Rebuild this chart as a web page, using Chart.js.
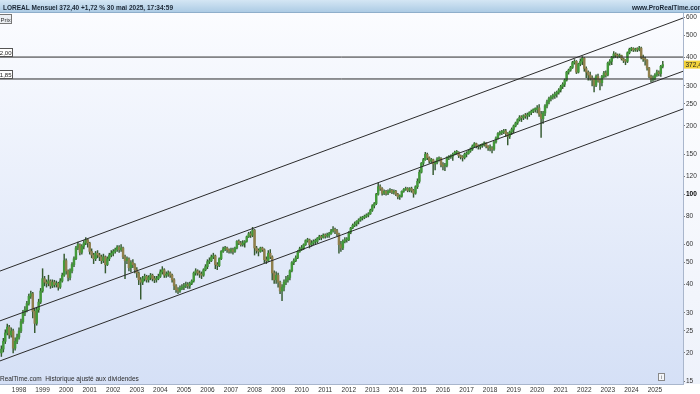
<!DOCTYPE html>
<html>
<head>
<meta charset="utf-8">
<script src="https://cdn.jsdelivr.net/npm/chart.js@4.4.1/dist/chart.umd.min.js"></script>
<style>
  html, body { margin: 0; padding: 0; background: #fff; }
  #c { display: block; }
</style>
</head>
<body>
<canvas id="c" width="700" height="394"></canvas>
<script>
// Monthly candles, months counted from Jan 1998 (first bar = Apr 1997)
const firstMonth = -9;
const firstOpen = 20.0;

const closes = [
  20.8, 22.5, 24.5, 26.0, 24.0, 25.0, 21.0, 22.5, 23.5,
  25.0, 27.5, 30.0, 31.0, 33.0, 35.5, 36.5, 30.5, 27.0, 31.0, 33.5, 37.5,
  42.5, 41.0, 40.5, 41.5, 39.5, 41.0, 40.0, 40.5, 39.0, 41.5, 44.0, 51.0,
  46.0, 43.0, 46.0, 49.0, 52.0, 58.0, 60.0, 55.5, 59.0, 61.0, 63.0, 61.0,
  56.0, 54.0, 52.0, 55.0, 54.0, 53.0, 51.0, 53.0, 49.0, 52.0, 54.0, 55.0,
  56.0, 57.0, 58.5, 57.0, 58.0, 53.0, 51.0, 52.0, 47.5, 50.0, 49.0, 46.5,
  45.0, 42.0, 41.0, 42.5, 43.5, 42.0, 43.0, 44.0, 42.5, 42.0, 42.5, 43.5,
  45.5, 46.5, 44.0, 44.5, 45.0, 44.0, 42.0, 39.5, 38.0, 37.5, 38.5, 39.0,
  39.5, 40.0, 39.5, 40.5, 41.5, 45.0, 46.0, 45.0, 44.5, 44.0, 46.5, 48.0,
  50.5, 51.0, 53.0, 53.5, 49.0, 48.5, 52.0, 56.0, 57.5, 58.0, 57.0, 56.0,
  57.0, 56.0, 58.0, 62.0, 61.0, 60.0, 61.0, 62.0, 65.0, 67.0, 66.0, 69.5,
  58.0, 56.5, 56.0, 58.0, 57.0, 51.5, 51.0, 55.0, 53.0, 45.0, 42.0, 44.0,
  41.0, 37.5, 39.0, 41.0, 42.0, 43.0, 46.0, 50.0, 51.0, 52.5, 56.0, 57.5,
  58.0, 60.0, 62.5, 63.0, 60.0, 61.0, 62.0, 62.0, 64.0, 65.0, 64.5, 66.0,
  65.5, 66.0, 67.0, 69.0, 70.0, 69.0, 67.0, 60.0, 58.0, 62.0, 63.0, 63.0,
  68.0, 71.0, 73.0, 74.0, 76.0, 77.0, 78.5, 79.0, 80.0, 81.0, 82.0, 85.0,
  89, 91, 100, 108, 106, 101, 103, 101, 103, 104, 102, 103,
  100, 97.5, 98, 103, 105, 106, 104, 106, 104, 101, 108, 114,
  125, 137, 142, 150, 145, 140, 142, 136, 138, 143, 144, 135,
  133, 134, 145, 146, 147, 150, 153, 153, 148, 146, 145, 150,
  151, 155, 158, 163, 167, 163, 162, 164, 165, 168, 163, 160,
  160, 158, 170, 177, 185, 187, 188, 190, 185, 180, 188, 193,
  200, 206, 213, 218, 217, 222, 221, 224, 229, 232, 236, 236,
  240, 225, 215, 228, 245, 255, 264, 268, 272, 276, 281, 288,
  298, 305, 318, 345, 352, 362, 380, 385, 345, 375, 385, 398,
  358, 345, 335, 325, 320, 302, 330, 318, 310, 330, 342, 335,
  378, 385, 402, 415, 410, 405, 408, 395, 388, 385, 420, 435,
  438, 432, 436, 434, 440, 400, 395, 390, 360, 330, 320, 325,
  335, 345, 340, 366, 372.4
];

const highs = [
  21.5, 23.2, 25.3, 26.8, 26.5, 25.8, 25.5, 23.3, 24.2,
  25.8, 28.2, 30.8, 32.0, 33.8, 36.3, 37.5, 37.0, 31.5, 31.8, 34.5, 38.5,
  47.0, 43.5, 42.0, 44.0, 42.0, 42.0, 41.8, 41.5, 41.0, 42.5, 45.0, 54.5,
  52.0, 46.5, 47.0, 50.0, 53.0, 59.0, 61.5, 60.5, 60.0, 62.5, 64.5, 63.5,
  61.5, 57.5, 55.0, 56.0, 56.5, 55.0, 54.0, 54.5, 53.5, 53.0, 55.0, 56.5,
  57.0, 58.0, 59.5, 59.5, 60.0, 58.5, 54.0, 53.0, 52.5, 51.0, 51.5, 49.5,
  47.5, 45.5, 43.0, 43.5, 44.5, 44.0, 43.8, 44.8, 44.5, 43.5, 43.5, 44.5,
  46.5, 48.0, 47.0, 45.5, 46.0, 45.5, 44.5, 42.5, 40.0, 38.8, 39.5, 40.0,
  40.5, 41.0, 40.8, 41.0, 42.0, 45.5, 47.0, 46.5, 46.0, 45.5, 47.0, 49.0,
  51.5, 52.5, 54.0, 55.0, 54.0, 50.0, 52.5, 56.5, 58.5, 59.0, 58.5, 57.5,
  58.0, 58.0, 58.5, 62.5, 63.0, 62.0, 62.5, 62.5, 65.5, 68.0, 68.5, 71.5,
  70.0, 59.0, 57.5, 58.5, 58.5, 57.5, 53.0, 56.5, 57.0, 53.5, 46.0, 45.5,
  45.0, 41.5, 40.0, 42.0, 43.5, 44.0, 46.5, 50.5, 52.0, 53.5, 56.5, 58.5,
  59.5, 60.5, 63.0, 64.0, 63.5, 62.5, 63.0, 63.5, 64.5, 66.0, 66.0, 67.0,
  67.0, 67.5, 68.0, 70.0, 72.0, 71.0, 70.0, 67.5, 62.0, 63.0, 64.5, 64.5,
  68.5, 71.5, 74.0, 75.5, 76.5, 78.0, 79.5, 80.0, 81.0, 82.0, 83.0, 86.0,
  90, 92, 101, 112, 110, 107, 104.5, 104, 104.5, 106, 105, 104.5,
  104, 101, 99.5, 103.5, 106, 107.5, 107, 107, 107.5, 105, 109, 117,
  128, 138, 144, 153, 152, 146, 144, 143, 140, 145, 146, 145,
  138, 137, 146, 148, 149, 152, 155, 156, 154, 149, 148, 152,
  154, 157, 160, 165, 169, 168, 165, 166, 167, 170, 169, 164,
  165, 162, 171, 179, 187, 190, 191, 193, 193, 187, 190, 196,
  202, 208, 215, 222, 222, 224, 227, 228, 231, 235, 238, 240,
  246, 248, 232, 232, 248, 260, 268, 272, 276, 282, 285, 292,
  302, 310, 322, 348, 356, 366, 385, 392, 388, 378, 395, 404,
  400, 364, 350, 345, 332, 325, 336, 338, 322, 334, 348, 350,
  382, 392, 405, 425, 420, 415, 415, 410, 398, 392, 424, 440,
  444, 442, 440, 442, 448, 445, 410, 402, 392, 362, 335, 332,
  340, 352, 350, 370, 385
];

const lows = [
  19.3, 20.2, 22.0, 24.0, 23.2, 23.5, 20.0, 20.6, 22.0,
  23.0, 24.6, 27.0, 29.2, 30.3, 32.5, 34.8, 28.5, 24.6, 26.5, 30.2, 33.0,
  37.0, 39.5, 39.0, 39.5, 38.5, 38.8, 39.0, 39.0, 37.8, 38.5, 41.0, 43.5,
  44.5, 41.5, 42.0, 45.0, 48.0, 51.5, 57.0, 54.0, 54.5, 57.5, 60.0, 58.5,
  54.5, 52.5, 49.5, 51.0, 52.5, 51.0, 49.5, 50.0, 45.0, 48.5, 51.0, 53.0,
  53.5, 55.0, 56.0, 55.5, 56.0, 52.0, 42.5, 49.5, 46.0, 45.5, 47.5, 45.0,
  43.0, 40.0, 34.5, 40.0, 41.5, 41.0, 41.0, 42.0, 41.5, 40.8, 41.0, 42.0,
  43.0, 44.5, 43.0, 43.0, 43.5, 43.0, 41.0, 38.0, 37.0, 36.5, 37.0, 38.0,
  38.0, 38.8, 38.5, 38.5, 40.0, 41.0, 44.0, 44.0, 43.0, 42.5, 43.5, 46.0,
  47.0, 49.5, 50.5, 52.0, 47.0, 46.5, 48.0, 51.5, 55.5, 56.5, 55.5, 55.0,
  55.0, 54.5, 55.5, 57.5, 60.0, 59.0, 59.0, 58.5, 61.5, 64.5, 64.5, 65.0,
  54.0, 55.0, 53.5, 55.5, 56.0, 50.0, 49.5, 50.5, 52.0, 42.0, 40.5, 40.5,
  39.0, 36.5, 34.0, 37.5, 40.0, 41.0, 42.0, 45.5, 49.0, 50.5, 52.0, 55.5,
  56.5, 57.0, 59.5, 61.5, 58.0, 59.0, 60.0, 60.5, 61.0, 63.0, 63.0, 64.0,
  64.0, 64.5, 64.5, 66.5, 68.0, 67.0, 65.5, 55.0, 56.0, 57.0, 61.0, 61.5,
  62.5, 67.0, 70.5, 72.0, 72.5, 74.0, 76.0, 77.0, 78.0, 79.0, 79.5, 81.5,
  84, 87, 90, 99, 104, 99, 99.5, 99, 99.5, 101.5, 100.5, 100,
  98.5, 95.5, 95, 97, 102, 104, 102.5, 102.5, 102, 97, 100, 106,
  112, 124, 134, 141, 142, 137, 137, 122, 128, 136, 140, 132,
  128, 127, 132, 142, 144, 141, 149, 150, 145, 143, 140, 143,
  146, 150, 153, 156, 161, 160, 158, 158, 161, 163, 160, 156,
  155, 152, 156, 168, 175, 182, 183, 185, 180, 165, 176, 183,
  186, 198, 203, 210, 209, 213, 216, 214, 220, 224, 229, 230,
  228, 220, 178, 205, 222, 240, 250, 258, 262, 264, 268, 276,
  282, 292, 298, 315, 338, 348, 358, 374, 340, 342, 368, 372,
  348, 326, 318, 318, 300, 282, 298, 312, 288, 300, 325, 328,
  332, 370, 372, 398, 400, 398, 400, 390, 380, 372, 380, 415,
  428, 425, 426, 425, 428, 395, 385, 370, 352, 326, 312, 314,
  318, 330, 332, 330, 360
];

const years = [1998, 1999, 2000, 2001, 2002, 2003, 2004, 2005, 2006, 2007, 2008, 2009, 2010, 2011,
  2012, 2013, 2014, 2015, 2016, 2017, 2018, 2019, 2020, 2021, 2022, 2023, 2024, 2025];
const yTicks = [15, 20, 25, 30, 40, 50, 60, 80, 100, 120, 150, 200, 250, 300, 400, 500, 600];

// trend channel drawn across the visible range (month index, price)
const channelX = [-9.7, 338.3];
const channelUpper = [45.9, 597];
const channelMiddle = [27.7, 348];
const channelLower = [18.45, 237.6];
const levels = [402.00, 321.85];

const lastPrice = 372.40;
const changePct = '+1,72 %';
const stamp = '30 mai 2025, 17:34:59';

const fr = v => v.toFixed(2).replace('.', ',');
const FONT = "'Liberation Sans', Arial, sans-serif";

const opens = closes.map((c, i) => i === 0 ? firstOpen : closes[i - 1]);
const months = closes.map((c, i) => firstMonth + i);

const wickData = months.map((m, i) => ({ x: m, y: [lows[i], highs[i]] }));
const bodyData = months.map((m, i) => ({ x: m, y: [opens[i], closes[i]] }));

const seg = (vals) => channelX.map((x, i) => ({ x: x, y: vals[i] }));
const lineStyle = { type: 'line', borderColor: '#2b2b2b', borderWidth: 1, pointRadius: 0, fill: false, tension: 0, order: 0 };

const decor = {
  id: 'decor',
  beforeDraw(chart) {
    const { ctx, chartArea: a, width, height } = chart;
    ctx.save();
    ctx.fillStyle = '#ffffff';
    ctx.fillRect(0, 0, width, height);
    let g = ctx.createLinearGradient(0, a.top, 0, a.bottom);
    g.addColorStop(0, '#fbfcff');
    g.addColorStop(1, '#d5e0f6');
    ctx.fillStyle = g;
    ctx.fillRect(a.left, a.top, a.right - a.left, a.bottom - a.top);
    g = ctx.createLinearGradient(0, a.top, 0, a.bottom);
    g.addColorStop(0, '#ffffff');
    g.addColorStop(1, '#eef2fb');
    ctx.fillStyle = g;
    ctx.fillRect(a.right, a.top, width - a.right, a.bottom - a.top);
    // header band
    g = ctx.createLinearGradient(0, 0, 0, a.top);
    g.addColorStop(0, '#d4e6f4');
    g.addColorStop(1, '#a9c9e3');
    ctx.fillStyle = g;
    ctx.fillRect(0, 0, width, a.top);
    ctx.fillStyle = '#8eaecb';
    ctx.fillRect(0, a.top - 1, width, 1);
    ctx.restore();
  },
  afterDraw(chart) {
    const { ctx, chartArea: a } = chart;
    const y = chart.scales.y;
    ctx.save();
    ctx.textBaseline = 'alphabetic';
    ctx.fillStyle = '#1b2735';
    ctx.font = 'bold 6.5px ' + FONT;
    ctx.textAlign = 'left';
    ctx.fillText('LOREAL Mensuel ' + fr(lastPrice) + ' ' + changePct + ' ' + stamp, 3, 9.5);
    ctx.fillText('www.ProRealTime.com', 632, 9.5);

    // "Prix" tag
    ctx.font = '6px ' + FONT;
    ctx.fillStyle = '#eceff3';
    ctx.fillRect(0, 14.5, 11.5, 9);
    ctx.strokeStyle = '#777';
    ctx.lineWidth = 1;
    ctx.strokeRect(-0.5, 14.5, 12, 9);
    ctx.fillStyle = '#333';
    ctx.fillText('Prix', 0.5, 21.5);

    // level tags, cut by the left edge
    levels.forEach(v => {
      const py = Math.round(y.getPixelForValue(v));
      ctx.fillStyle = '#ffffff';
      ctx.fillRect(-20, py - 8.5, 32.5, 8);
      ctx.strokeStyle = '#555';
      ctx.strokeRect(-20, py - 8.5, 32.5, 8);
      ctx.fillStyle = '#222';
      ctx.textAlign = 'right';
      ctx.fillText(fr(v), 11.5, py - 2.2);
    });

    // last price tag on the axis
    const ly = y.getPixelForValue(lastPrice);
    ctx.fillStyle = '#f3d33a';
    ctx.fillRect(a.right + 1, ly - 4, 20, 8);
    ctx.fillStyle = '#222';
    ctx.textAlign = 'left';
    ctx.font = '6.5px ' + FONT;
    ctx.fillText(fr(lastPrice), a.right + 2.5, ly + 2.5);

    // footer note
    ctx.font = '6.5px ' + FONT;
    ctx.fillStyle = '#2a2a2a';
    ctx.fillText('RealTime.com  Historique ajust\u00e9 aux dividendes', 0, a.bottom - 3);

    // small info box
    ctx.fillStyle = '#f4f6fa';
    ctx.fillRect(658.5, a.bottom - 10.5, 6, 7);
    ctx.strokeStyle = '#888';
    ctx.strokeRect(658.5, a.bottom - 10.5, 6, 7);
    ctx.fillStyle = '#555';
    ctx.font = '5px ' + FONT;
    ctx.textAlign = 'center';
    ctx.fillText('i', 661.5, a.bottom - 5);
    ctx.restore();
  }
};

new Chart(document.getElementById('c'), {
  type: 'bar',
  data: {
    datasets: [
      Object.assign({ data: seg(channelUpper) }, lineStyle),
      Object.assign({ data: seg(channelMiddle) }, lineStyle),
      Object.assign({ data: seg(channelLower) }, lineStyle),
      Object.assign({ data: seg([levels[0], levels[0]]) }, lineStyle),
      Object.assign({ data: seg([levels[1], levels[1]]) }, lineStyle),
      {
        data: bodyData,
        backgroundColor: (c) => {
          const i = c.dataIndex;
          return closes[i] >= opens[i] ? '#43993a' : '#8f7f4c';
        },
        barThickness: 1.8,
        minBarLength: 1,
        grouped: false,
        order: 1
      },
      {
        data: wickData,
        backgroundColor: '#355a30',
        barThickness: 0.8,
        grouped: false,
        order: 2
      }
    ]
  },
  options: {
    responsive: false,
    animation: false,
    devicePixelRatio: 1,
    layout: { padding: { top: 13, left: 0, right: 0, bottom: 0 } },
    plugins: { legend: { display: false }, tooltip: { enabled: false } },
    scales: {
      x: {
        type: 'linear',
        offset: false,
        min: channelX[0],
        max: channelX[1],
        afterFit: (s) => { s.height = 10; },
        afterBuildTicks: (s) => { s.ticks = years.map(yr => ({ value: (yr - 1998) * 12 })); },
        grid: { display: false, drawTicks: false, tickLength: 0 },
        border: { color: '#a9b6cc' },
        ticks: {
          autoSkip: false,
          maxRotation: 0,
          padding: 2,
          color: '#333',
          font: { family: FONT, size: 6.5 },
          callback: (v, i) => String(years[i])
        }
      },
      y: {
        type: 'logarithmic',
        position: 'right',
        min: 14.6,
        max: 628.5,
        afterFit: (s) => { s.width = 17; },
        afterBuildTicks: (s) => { s.ticks = yTicks.map(v => ({ value: v })); },
        grid: { drawOnChartArea: false, tickLength: 2, color: '#777' },
        border: { color: '#a9b6cc' },
        ticks: {
          padding: 1,
          color: (c) => c.tick && c.tick.value === 100 ? '#000' : '#333',
          font: (c) => ({ family: FONT, size: 6.5, weight: c.tick && c.tick.value === 100 ? 'bold' : 'normal' }),
          callback: (v) => String(v)
        }
      }
    }
  },
  plugins: [decor]
});
</script>
</body>
</html>
